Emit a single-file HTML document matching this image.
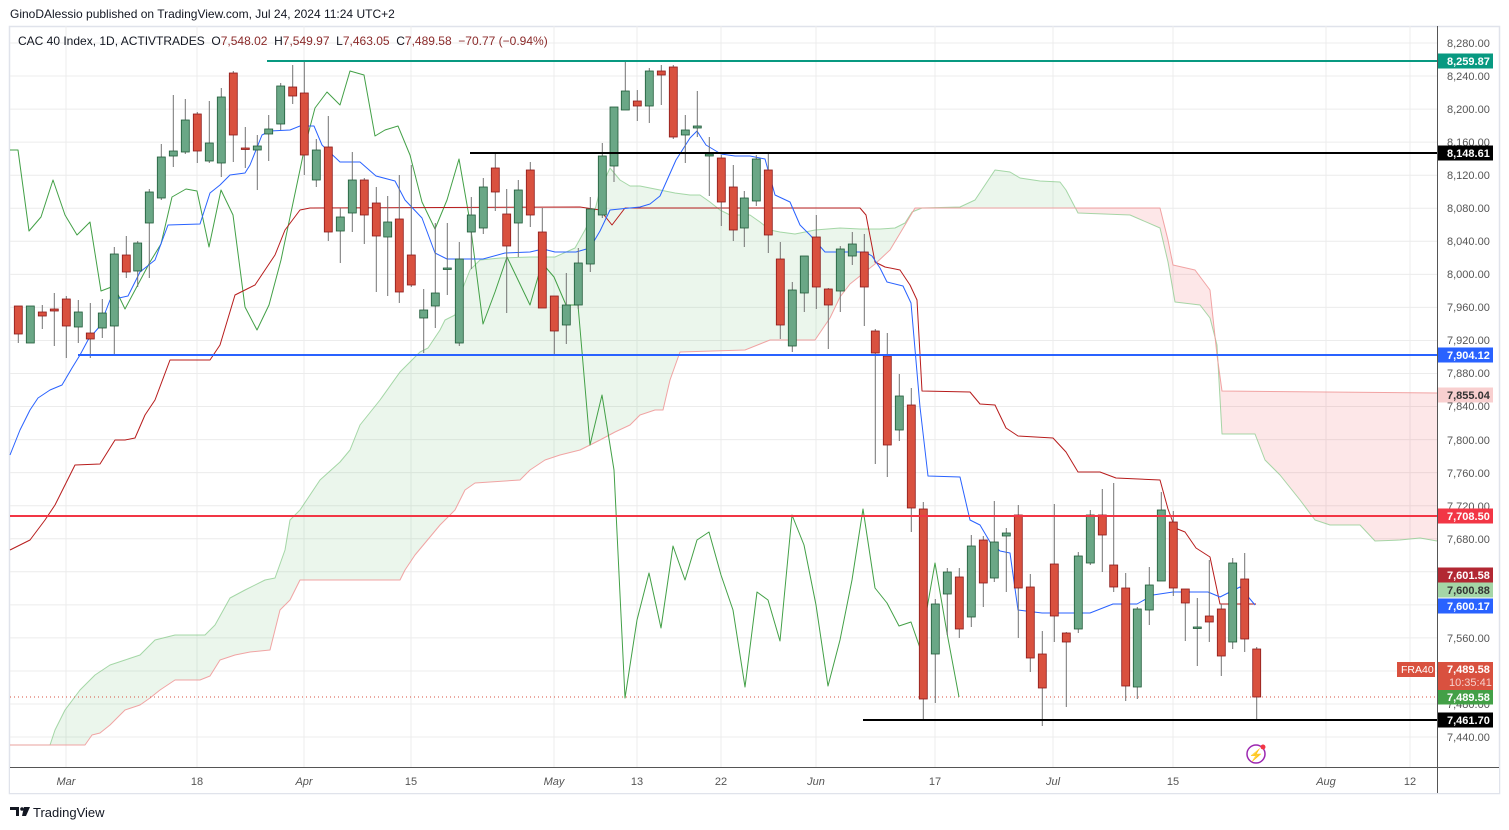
<!DOCTYPE html>
<html><head><meta charset="utf-8">
<style>
html,body{margin:0;padding:0;background:#fff;width:1509px;height:830px;overflow:hidden;font-family:"Liberation Sans",sans-serif;}
svg{position:absolute;left:0;top:0}
</style></head><body>
<svg id="s" width="1509" height="830" xmlns="http://www.w3.org/2000/svg" font-family="Liberation Sans, sans-serif"></svg>
<script>
const S=document.getElementById('s');let h='';
const X0=10,X1=1437,Y0=26,Y1=767;
h+=`<rect x="9.5" y="26.5" width="1490" height="767" fill="#fff" stroke="#e0e3eb" stroke-width="1.5"/>`;
for(let k=0;k<22;k++){const y=43+k*33.05;h+=`<line x1="${X0}" x2="${X1}" y1="${y}" y2="${y}" stroke="#ececec"/>`;}
const dates=[[66,'Mar'],[197,'18'],[304,'Apr'],[411,'15'],[554,'May'],[637,'13'],[721,'22'],[816,'Jun'],[935,'17'],[1053,'Jul'],[1173,'15'],[1326,'Aug'],[1410,'12']];
dates.forEach(d=>{h+=`<line x1="${d[0]}" x2="${d[0]}" y1="${Y0}" y2="${Y1}" stroke="#ececec"/>`;});
const A=[[10,745],[50,745],[55,730],[65,710],[80,690],[95,675],[110,665],[125,660],[140,655],[155,640],[175,635],[205,635],[215,625],[230,598],[245,590],[265,580],[275,578],[285,550],[290,520],[300,510],[320,480],[340,462],[350,450],[360,425],[380,400],[400,372],[420,352],[428,348],[440,330],[445,320],[455,315],[460,295],[470,270],[480,260],[500,258],[530,257],[555,257],[575,248],[585,230],[595,210],[600,190],[610,168],[620,180],[630,186],[640,186],[660,190],[675,193],[690,195],[700,195],[710,202],[720,210],[730,215],[750,215],[760,222],[770,230],[780,232],[795,234],[815,230],[840,228],[860,229],[880,229],[895,228],[905,223],[912,212],[922,208],[960,207],[975,200],[985,185],[995,170],[1010,172],[1020,178],[1040,181],[1060,182],[1066,190],[1078,213],[1130,215],[1160,228],[1168,262],[1175,302],[1200,305],[1210,318],[1217,345],[1222,434],[1255,434],[1265,460],[1280,475],[1300,500],[1315,520],[1330,525],[1360,525],[1375,541],[1400,540],[1420,538],[1437,541]];
const B=[[10,745],[85,745],[92,735],[100,733],[110,725],[125,710],[140,705],[150,698],[160,690],[175,680],[200,680],[210,676],[220,660],[235,655],[250,652],[270,650],[280,610],[290,600],[300,580],[400,580],[405,570],[415,555],[440,525],[455,510],[465,490],[475,483],[520,480],[530,470],[545,460],[560,455],[580,450],[600,440],[615,432],[630,425],[640,415],[655,410],[663,410],[670,380],[680,352],[745,350],[770,340],[815,340],[830,318],[840,297],[850,284],[875,264],[890,250],[905,225],[915,208],[1160,208],[1168,240],[1173,265],[1195,270],[1210,290],[1217,355],[1222,391],[1437,393]];
function interp(P,x){for(let i=1;i<P.length;i++){if(x<=P[i][0]){const a=P[i-1],b=P[i];return a[1]+(b[1]-a[1])*(x-a[0])/(b[0]-a[0]||1);}}return P[P.length-1][1];}
let run=null;function flush(){if(!run)return;const top=run.pts.map(p=>p[0]+','+p[1]).join(' ');const bot=run.pts2.slice().reverse().map(p=>p[0]+','+p[1]).join(' ');h+=`<polygon points="${top} ${bot}" fill="${run.c}"/>`;run=null;}
for(let x=10;x<=1437;x++){const a=interp(A,x),b=interp(B,x);const c=a<=b?'rgba(76,175,80,0.11)':'rgba(242,54,69,0.12)';if(!run||run.c!=c){if(run){run.pts.push([x,a]);run.pts2.push([x,b]);}flush();run={c:c,pts:[],pts2:[]};}run.pts.push([x,a]);run.pts2.push([x,b]);}
flush();
const pl=(P,c,w,o)=>{h+=`<polyline points="${P.map(p=>p.join(',')).join(' ')}" fill="none" stroke="${c}" stroke-width="${w}" stroke-opacity="${o||1}" stroke-linejoin="round"/>`;};
pl(A,'#81c784',1,0.7);pl(B,'#ef9a9a',1,0.9);
h+=`<line x1="${X0}" x2="${X1}" y1="697" y2="697" stroke="#d9513f" stroke-dasharray="1,3"/>`;
const G=[[10,150],[18,150],[29,231],[41,217],[53,180],[65,215],[77,235],[90,222],[101,291],[114,286],[125,309],[150,262],[161,244],[172,197],[186,189],[197,191],[209,247],[221,190],[233,215],[245,307],[257,330],[269,305],[281,260],[305,146],[315,108],[327,92],[340,105],[350,71],[364,75],[375,136],[385,130],[398,126],[410,155],[422,202],[435,229],[447,200],[459,159],[470,222],[483,324],[495,292],[507,257],[519,282],[530,305],[542,263],[554,277],[566,305],[578,305],[590,445],[602,395],[614,470],[625,698],[637,620],[649,573],[661,628],[673,546],[685,580],[697,540],[709,532],[721,575],[733,610],[745,687],[757,592],[768,600],[780,641],[792,515],[804,545],[816,605],[828,686],[840,640],[852,580],[863,509],[875,588],[887,603],[899,626],[911,622],[920,648],[935,563],[947,633],[959,697]];
pl(G,'#43a047',1);
const K=[[10,550],[20,545],[30,540],[45,520],[55,505],[65,485],[75,465],[100,464],[115,440],[125,440],[135,438],[145,415],[155,400],[170,360],[210,360],[220,345],[235,295],[245,290],[255,285],[265,270],[275,255],[285,230],[300,210],[310,208],[580,207],[600,210],[612,225],[625,208],[860,208],[866,215],[875,262],[885,267],[900,270],[910,285],[917,300],[922,391],[970,392],[980,404],[995,405],[1006,428],[1018,436],[1053,438],[1066,452],[1078,472],[1100,472],[1116,478],[1160,480],[1168,509],[1175,528],[1185,532],[1196,548],[1210,557],[1220,604],[1256,604]];
pl(K,'#b71c1c',1);
const T=[[10,455],[20,430],[30,410],[38,398],[50,390],[62,385],[72,368],[80,355],[88,340],[100,326],[110,300],[128,296],[140,272],[155,260],[168,225],[200,224],[210,193],[220,185],[230,175],[245,173],[250,165],[262,135],[270,131],[290,130],[300,126],[314,126],[322,145],[340,162],[360,162],[376,176],[395,181],[405,200],[422,218],[435,253],[447,259],[483,259],[505,253],[530,252],[543,249],[555,252],[576,252],[590,248],[600,231],[610,210],[640,207],[650,204],[660,196],[676,160],[690,138],[697,131],[706,145],[721,154],[735,156],[750,156],[765,159],[775,195],[790,202],[800,225],[810,235],[825,252],[865,252],[872,256],[880,268],[887,282],[903,286],[911,303],[920,407],[928,476],[960,477],[970,520],[980,525],[990,542],[1000,551],[1010,553],[1018,610],[1042,613],[1090,613],[1113,604],[1137,604],[1153,595],[1173,592],[1208,592],[1220,597],[1240,587],[1255,605]];
pl(T,'#2962ff',1);
const C=[[18.3,306,334,306,343],[30.3,343,306,306,343],[42.3,312,316,305,329],[54.3,309,311,293,346],[66.3,299,326,296,358],[78.3,327,312,300,343],[90.3,333,339,303,358],[102.3,328,313,299,338],[114.3,326,254,247,354],[126.3,255,272,236,278],[137.7,271,243,241,287],[149.3,223,192,189,278],[161.3,198,157,144,200],[173.3,156,151,95,167],[185.3,152,120,99,154],[197.3,114,151,112,163],[209.3,161,143,101,163],[221.3,163,97,88,177],[233.3,73,135,71,162],[245.3,148,149,127,168],[257.3,150,146,135,190],[268.7,134,129,115,161],[280.7,124,86,83,130],[292.7,87,96,65,104],[304.3,93,155,61,175],[316.3,180,150,139,187],[328.3,147,232,116,241],[340.3,231,217,208,263],[352.3,213,180,152,232],[364.3,180,215,178,244],[376.3,203,236,187,292],[387.7,237,222,196,296],[399.3,219,292,175,303],[411.3,255,285,165,287],[423.7,318,310,289,353],[435.3,306,293,223,328],[447.3,269,268,223,295],[459.3,343,259,242,346],[471.3,232,215,197,269],[483.3,228,187,178,234],[495.3,168,192,152,211],[506.7,214,246,189,313],[518.3,223,190,180,257],[530.3,170,215,162,227],[542.3,232,308,208,308],[554.3,296,331,296,355],[566.3,325,305,273,344],[578.3,305,263,248,309],[590.3,264,209,197,272],[602.3,215,156,143,218],[614,166,107,107,182],[625.3,110,91,62,110],[637.3,101,106,90,121],[649.3,106,71,68,123],[661.3,71,75,65,105],[673.3,67,137,65,139],[685.3,135,130,115,163],[697.3,128,126,91,137],[709.3,156,154,137,196],[721.3,158,202,155,226],[733.3,187,230,165,241],[744.3,228,198,191,247],[756.3,201,159,155,206],[768.3,170,235,152,253],[780.3,259,325,242,339],[792.3,346,290,282,352],[804.3,293,256,256,312],[816.3,237,287,215,309],[828.3,289,305,288,349],[840.3,291,249,246,312],[852.3,256,244,232,265],[864.3,252,287,234,326],[875.3,331,353,329,464],[887.3,356,445,333,477],[899.3,430,396,374,441],[911.3,405,508,388,532],[923.3,509,699,502,720],[935.3,654,604,599,703],[947.3,594,572,568,635],[959.3,577,629,568,638],[971.3,617,546,535,627],[983.3,540,583,536,607],[994.3,578,542,501,582],[1006.3,536,533,528,592],[1018.3,515,588,505,638],[1030.3,587,658,574,672],[1042.3,654,688,631,726],[1054.3,564,616,504,642],[1066.3,633,642,632,707],[1078.3,629,556,552,633],[1090.3,563,515,510,565],[1102.3,515,535,489,572],[1113.7,565,587,483,592],[1125.7,588,686,573,701],[1137.3,687,609,607,699],[1149.3,610,585,567,625],[1161.3,581,510,492,581],[1173.3,522,588,511,596],[1185.3,589,603,589,641],[1197.3,628,627,598,666],[1209.3,616,622,560,642],[1221.3,609,656,604,676],[1232.7,642,563,558,649],[1244.7,579,639,553,652],[1256.7,649,697,647,719]];
C.forEach(c=>{const[x,o,cl,hi,lo]=c;const up=cl<o;const top=Math.min(o,cl),bh=Math.max(Math.abs(o-cl),1.5);
h+=`<line x1="${x}" x2="${x}" y1="${hi}" y2="${lo}" stroke="#737373"/>`;
h+=`<rect x="${x-4}" y="${top}" width="8" height="${bh}" fill="${up?'#6aa786':'#d9513f'}" stroke="${up?'#1e5a38':'#8b1a1a'}" stroke-width="0.8"/>`;});
h+=`<line x1="267" x2="${X1}" y1="61" y2="61" stroke="#089981" stroke-width="2"/>`;
h+=`<line x1="470" x2="${X1}" y1="153" y2="153" stroke="#000" stroke-width="2"/>`;
h+=`<line x1="78" x2="${X1}" y1="355" y2="355" stroke="#2962ff" stroke-width="2"/>`;
h+=`<line x1="${X0}" x2="${X1}" y1="516" y2="516" stroke="#f23645" stroke-width="2"/>`;
h+=`<line x1="863" x2="${X1}" y1="720" y2="720" stroke="#000" stroke-width="2"/>`;
h+=`<circle cx="1256" cy="754" r="9" fill="none" stroke="#9c27b0" stroke-width="1.5"/><text x="1256" y="759" font-size="12" fill="#9c27b0" text-anchor="middle">⚡</text><circle cx="1263" cy="747" r="2.5" fill="#f23645"/>`;
h+=`<rect x="${X0}" y="768" width="1489" height="25" fill="#fff"/>`;
h+=`<line x1="${X0}" x2="1499" y1="767.5" y2="767.5" stroke="#555"/>`;
h+=`<line x1="1437.5" x2="1437.5" y1="26" y2="793" stroke="#555"/>`;
dates.forEach(d=>{h+=`<text x="${d[0]}" y="785" font-size="11" fill="#555" text-anchor="middle" ${['Mar','Apr','May','Jun','Jul','Aug'].includes(d[1])?'font-style="italic"':''}>${d[1]}</text>`;});
const prices=[[43,'8,280.00'],[76,'8,240.00'],[109,'8,200.00'],[142,'8,160.00'],[175,'8,120.00'],[208,'8,080.00'],[241,'8,040.00'],[274,'8,000.00'],[307,'7,960.00'],[340,'7,920.00'],[373,'7,880.00'],[406,'7,840.00'],[440,'7,800.00'],[473,'7,760.00'],[506,'7,720.00'],[539,'7,680.00'],[638,'7,560.00'],[704,'7,480.00'],[737,'7,440.00']];
prices.forEach(p=>{h+=`<text x="1447" y="${p[0]+4}" font-size="11" fill="#555">${p[1]}</text>`;});
const labs=[[61,'8,259.87','#089981','#fff'],[153,'8,148.61','#000','#fff'],[355,'7,904.12','#2962ff','#fff'],[395,'7,855.04','#f8cfcf','#333'],[516,'7,708.50','#f23645','#fff'],[575,'7,601.58','#b22833','#fff'],[590,'7,600.88','#a5d6a7','#333'],[606,'7,600.17','#2962ff','#fff'],[697,'7,489.58','#43a047','#fff'],[720,'7,461.70','#000','#fff']];
labs.forEach(l=>{h+=`<rect x="1438" y="${l[0]-7.5}" width="55" height="15" fill="${l[2]}"/><text x="1447" y="${l[0]+4}" font-size="11" fill="${l[3]}" font-weight="bold">${l[1]}</text>`;});
h+=`<rect x="1438" y="662" width="55" height="28" fill="#d9513f"/><text x="1447" y="673" font-size="11" fill="#fff" font-weight="bold">7,489.58</text><text x="1449" y="686" font-size="11" fill="#f6d0cb">10:35:41</text>`;
h+=`<rect x="1397" y="662" width="38" height="15" fill="#d9513f"/><text x="1401" y="673" font-size="10.5" fill="#fff">FRA40</text>`;
h+=`<text x="10" y="18" font-size="12" fill="#131722">GinoDAlessio published on TradingView.com, Jul 24, 2024 11:24 UTC+2</text>`;
h+=`<text x="18" y="45" font-size="12" fill="#131722" xml:space="preserve">CAC 40 Index, 1D, ACTIVTRADES  O<tspan fill="#8b2a2a">7,548.02</tspan>  H<tspan fill="#8b2a2a">7,549.97</tspan>  L<tspan fill="#8b2a2a">7,463.05</tspan>  C<tspan fill="#8b2a2a">7,489.58  −70.77 (−0.94%)</tspan></text>`;
h+=`<path d="M10 807h9v9h-3v-6h-6z" fill="#131722"/><circle cx="22" cy="809" r="1.8" fill="#131722"/><path d="M24 807h6l-4 9h-4z" fill="#131722"/>`;
h+=`<text x="33" y="817" font-size="13" fill="#131722">TradingView</text>`;
S.innerHTML=h;
</script>
</body></html>
